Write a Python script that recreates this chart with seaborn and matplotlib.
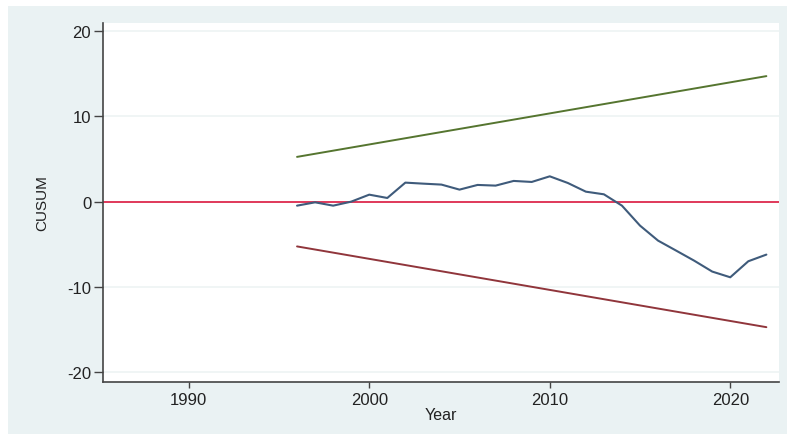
import matplotlib
matplotlib.use("Agg")
import matplotlib.pyplot as plt
from matplotlib.patches import Rectangle
import seaborn as sns
import pandas as pd

# ---- data ----
years = list(range(1996, 2023))
cusum = [-0.47, -0.08, -0.47, 0.0, 0.82, 0.43, 2.23, 2.11, 2.0, 1.41, 1.96, 1.88,
         2.43, 2.31, 2.97, 2.19, 1.17, 0.86, -0.47, -2.81, -4.57, -5.74, -6.92,
         -8.2, -8.87, -6.99, -6.21]
bound_years = [1996, 2022]
upper_bound = [5.25, 14.72]
lower_bound = [-5.25, -14.72]
y_ticks = [-20, -10, 0, 10, 20]
x_ticks = [1990, 2000, 2010, 2020]

sns.set_style("white")
plt.rcParams['font.family'] = ['Liberation Sans', 'DejaVu Sans']

W, H = 787, 435
fig = plt.figure(figsize=(W / 100, H / 100), dpi=100)
fig.patch.set_facecolor("white")
fig.patches.append(Rectangle((8 / W, 0), 1 - 8 / W, 1 - 7 / H, transform=fig.transFigure,
                             facecolor="#EAF2F3", edgecolor="none", zorder=-10))

ax = fig.add_axes([103 / W, 1 - 383 / H, (779 - 103) / W, (383 - 24) / H])
ax.set_facecolor("white")

df = pd.DataFrame({"Year": years, "CUSUM": cusum})
bdf = pd.DataFrame({"Year": bound_years, "upper": upper_bound, "lower": lower_bound})

for yv in y_ticks:
    if yv != 0:
        ax.axhline(yv, color="#EDF3F4", lw=1.2, zorder=0)
ax.axhline(0, color="#E0395A", lw=1.4, zorder=1)

sns.lineplot(data=bdf, x="Year", y="upper", ax=ax, color="#55752f", lw=1.4)
sns.lineplot(data=bdf, x="Year", y="lower", ax=ax, color="#90353b", lw=1.4)
sns.lineplot(data=df, x="Year", y="CUSUM", ax=ax, color="#3f5b7b", lw=1.5)

ax.set_xlim(1985.25, 2022.7)
ax.set_ylim(-21.15, 20.95)
ax.set_xticks(x_ticks)
ax.set_yticks(y_ticks)
ax.set_yticklabels([str(v) for v in y_ticks])
ax.tick_params(axis="both", direction="out", length=6.5, width=1, color="#444444",
               labelsize=12, labelcolor="#222222", pad=2, left=True, bottom=True)
ax.tick_params(axis="x", length=4, pad=3)

for s in ["top", "right"]:
    ax.spines[s].set_visible(False)
for s in ["left", "bottom"]:
    ax.spines[s].set_color("#444444")
    ax.spines[s].set_linewidth(1.2)

ax.set_xlabel("Year", fontsize=11.5, color="#222222", labelpad=0)
ax.set_ylabel("CUSUM", fontsize=11, color="#222222", labelpad=12.5)

fig.savefig("out.png", dpi=100, facecolor=fig.get_facecolor())
